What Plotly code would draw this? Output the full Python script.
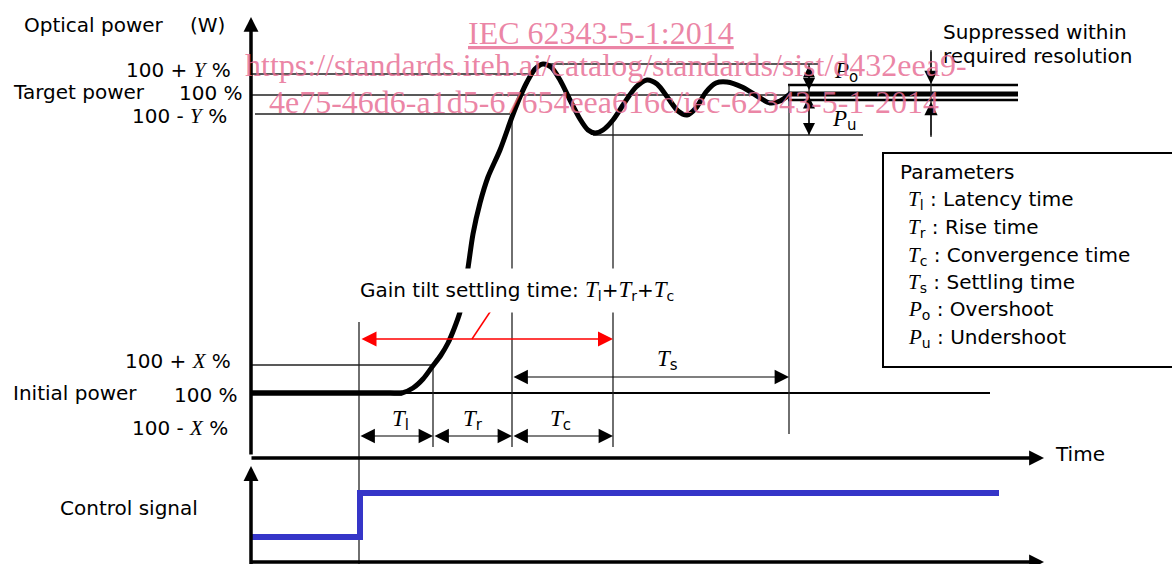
import plotly.graph_objects as go

# ---------------- data (diagram units: x = time, y = power level, y grows downward) -------------
# optical power response curve
curve_time = [252, 300, 360, 390, 402, 413, 423, 432, 441, 448, 454, 460, 464, 468, 473, 480, 488,
              500, 512, 520, 527, 535, 543, 551, 560, 570, 580, 588, 595, 603, 613, 625, 636, 647,
              657, 668, 678, 687, 696, 706, 716, 727, 742, 757, 770, 780, 790]
curve_power = [393, 393, 393, 393, 393, 388, 379, 367, 355, 343, 329, 312, 292, 268, 234, 203, 177,
               150, 117, 97, 82, 69, 64, 67, 80, 100, 119, 130, 133, 130, 120, 102, 87, 80,
               84, 98, 111, 115, 108, 92, 83, 82, 87, 96, 103, 101, 94]

# control signal (step)
ctrl_time = [252, 360, 360, 999]
ctrl_level = [537, 537, 493, 493]

# horizontal reference levels: start, end, level, width
ref_start = [252, 543, 252, 255, 593, 252, 252, 788, 788, 788, 252]
ref_end = [530, 818, 788, 510, 863, 433, 990, 1018, 1018, 1018, 402]
ref_level = [74, 64, 95, 114, 135, 365, 393, 85, 94, 100, 393]
ref_width = [1.3, 1.3, 1.3, 1.5, 1.3, 1.3, 2.0, 2.5, 5.0, 2.5, 5.0]

# vertical time markers: time, top, bottom
mark_time = [359, 433, 512, 613, 789, 809, 931]
mark_top = [322, 365, 117, 118, 85, 64, 50]
mark_bottom = [564, 447, 447, 447, 434, 135, 137]

# time dimension arrows: start, end, level, label, label x, label y
dim_start = [359, 433, 512, 512]
dim_end = [433, 512, 613, 789]
dim_level = [436, 436, 436, 377]
dim_label = ["l", "r", "c", "s"]
dim_label_x = [400, 473, 560, 667]
dim_label_y = [420, 420, 420, 360]

# gain tilt settling time arrow
gain_start, gain_end, gain_level = 360, 613, 339
pointer_x = [472, 494]
pointer_y = [339, 306]

# power dimension arrows at the right: (x, from, to)
pw_x = [809, 809]
pw_from = [64, 95]
pw_to = [90, 135]
supp_x = 931
supp_tail = [50, 137]
supp_tip = [84, 102]

# parameter list
param_sym = ["T", "T", "T", "T", "P", "P"]
param_sub = ["l", "r", "c", "s", "o", "u"]
param_txt = ["Latency time", "Rise time", "Convergence time", "Settling time", "Overshoot", "Undershoot"]
param_y = [200, 228, 256, 283, 310, 338]

# axis labels: text, x, y
left_text = ["100 + <i>Y</i> %", "100 %", "100 - <i>Y</i> %", "100 + <i>X</i> %", "100 %", "100 - <i>X</i> %"]
left_x = [233, 245, 229, 233, 240, 230]
left_y = [70, 93, 116, 361, 395, 428]
name_text = ["Optical power", "(W)", "Target power", "Initial power", "Control signal"]
name_x = [22, 188, 11, 11, 58]
name_y = [25, 25, 92, 393, 508]

SANS = "DejaVu Sans"
SERIF = "Liberation Serif"
BLACK = "#000000"
LINE = "#222222"


def sym(s, sub, size=23, subsize=15):
    return (f'<span style="font-family:{SERIF};font-style:italic;font-size:{size}px">{s}</span>'
            f'<sub><span style="font-family:{SANS};font-style:normal;font-size:{subsize}px">{sub}</span></sub>')


fig = go.Figure()

# reference level lines
for x0, x1, y, w in zip(ref_start, ref_end, ref_level, ref_width):
    fig.add_trace(go.Scatter(x=[x0, x1], y=[y, y], mode="lines",
                             line=dict(color=BLACK if w >= 2 else LINE, width=w), hoverinfo="skip"))

# vertical markers
for x, y0, y1 in zip(mark_time, mark_top, mark_bottom):
    fig.add_trace(go.Scatter(x=[x, x], y=[y0, y1], mode="lines",
                             line=dict(color=LINE, width=1.3), hoverinfo="skip"))

# response curve
fig.add_trace(go.Scatter(x=curve_time, y=curve_power, mode="lines",
                         line=dict(color=BLACK, width=5, shape="spline", smoothing=0.8),
                         hoverinfo="skip"))

# control signal
fig.add_trace(go.Scatter(x=ctrl_time, y=ctrl_level, mode="lines",
                         line=dict(color="#3535C8", width=6), hoverinfo="skip"))

# red pointer
fig.add_trace(go.Scatter(x=pointer_x, y=pointer_y, mode="lines",
                         line=dict(color="#FF0000", width=1.5), hoverinfo="skip"))

ann = []


def arrow(x, y, ax, ay, width=1.2, size=2.4, color=BLACK, both=False):
    ann.append(dict(x=x, y=y, ax=ax, ay=ay, xref="x", yref="y", axref="x", ayref="y",
                    text="", showarrow=True, arrowhead=2, arrowsize=size, arrowwidth=width,
                    arrowcolor=color, standoff=0, startstandoff=0,
                    arrowside="end+start" if both else "end", startarrowhead=2,
                    startarrowsize=size))


# main axes
arrow(251, 17, 251, 456, width=3.5, size=0.85)
arrow(1044, 458, 250, 458, width=3.5, size=0.85)
arrow(251, 466, 251, 566, width=3.5, size=0.85)
arrow(1044, 562, 250, 562, width=3.5, size=0.85)

# time dimension arrows
for x0, x1, y in zip(dim_start, dim_end, dim_level):
    arrow(x1, y, x0, y, both=True)
arrow(gain_end, gain_level, gain_start, gain_level, width=1.5, size=2.0, color="#FF0000", both=True)

# power dimension arrows
for x, y0, y1 in zip(pw_x, pw_from, pw_to):
    arrow(x, y1, x, y0, width=1.2, size=2.0, both=True)
for yt, yp in zip(supp_tail, supp_tip):
    arrow(supp_x, yp, supp_x, yt, width=1.2, size=2.2)

font = dict(family=SANS, size=20, color=BLACK)


def text(t, x, y, xa="left", **kw):
    d = dict(x=x, y=y, xref="x", yref="y", text=t, showarrow=False, xanchor=xa,
             yanchor="middle", font=font)
    d.update(kw)
    ann.append(d)


for t, x, y in zip(left_text, left_x, left_y):
    t = t.replace("<i>", f'<span style="font-family:{SERIF};font-style:italic;font-size:21px">').replace("</i>", "</span>")
    text(t, x, y, xa="right")
for t, x, y in zip(name_text, name_x, name_y):
    text(t, x, y)
text("Time", 1053, 454)
text("Suppressed within", 941, 32)
text("required resolution", 941, 56)

# dimension labels
for s, x, y in zip(dim_label, dim_label_x, dim_label_y):
    text(sym("T", s), x, y, xa="center")
text(sym("P", "o"), 832, 72)
text(sym("P", "u"), 830, 120)

# gain tilt label with white background
text("Gain tilt settling time: " + sym("T", "l", 23, 14) + "+" + sym("T", "r", 23, 14) + "+" + sym("T", "c", 23, 14),
     351, 290, bgcolor="white", borderpad=8)

# parameters box
text("Parameters", 898, 172)
for s, sb, t, y in zip(param_sym, param_sub, param_txt, param_y):
    text(sym(s, sb, 21, 14) + " : " + t, 906, y)

# watermark
wm = dict(family=SERIF, size=32, color="rgba(232,112,150,0.85)")
text("IEC 62343-5-1:2014", 601, 33, xa="center",
     font=dict(family=SERIF, size=32, color="rgba(232,112,150,0.85)", lineposition="under"))
text("https://standards.iteh.ai/catalog/standards/sist/d432eea9-", 243, 65, font=wm)
text("4e75-46d6-a1d5-67654eea616c/iec-62343-5-1-2014", 267, 102, font=wm)

fig.update_layout(
    width=1172, height=564, margin=dict(l=0, r=0, t=0, b=0),
    paper_bgcolor="white", plot_bgcolor="white", showlegend=False,
    xaxis=dict(range=[0, 1172], visible=False, fixedrange=True),
    yaxis=dict(range=[564, 0], visible=False, fixedrange=True),
    annotations=ann,
    shapes=[dict(type="rect", xref="x", yref="y", x0=883, y0=153, x1=1176, y1=367,
                 line=dict(color=BLACK, width=2))],
)

fig.write_html("out.html", config={"displayModeBar": False},
               post_script="document.body.style.margin='0';document.body.style.overflow='hidden';")
